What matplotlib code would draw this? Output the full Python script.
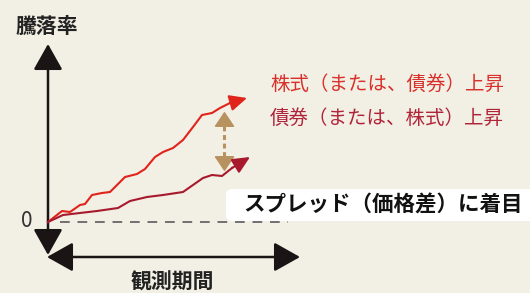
import numpy as np
import matplotlib.pyplot as plt
from matplotlib.patches import FancyBboxPatch
from matplotlib.path import Path

plt.rcParams['font.family'] = ['Noto Sans CJK JP', 'DejaVu Sans']

# observation period (t) and return (v) for each series
t_stock = [0, 7, 11, 16, 18.5, 22, 27, 31, 38.5, 44.5, 48.5, 53.5, 57.5, 62.5,
           67.5, 72.5, 77, 82, 86, 91, 99.5]
v_stock = [0, 5.5, 5, 8.5, 9, 13.5, 14.5, 15, 22.5, 24, 26.5, 32.5, 35, 37,
           41, 47.5, 53.5, 54.5, 57, 59.5, 62]
t_bond = [0, 7.5, 16, 24.5, 35, 41, 49.5, 57.5, 67.5, 72.5, 77.5, 82, 87, 92, 101]
v_bond = [0, 3.5, 4.5, 5.5, 7, 10.5, 12.5, 13.5, 15, 18.5, 22, 23.5, 23, 27, 32.5]

label_stock = '株式（または、債券）上昇'
label_bond = '債券（または、株式）上昇'
label_spread = 'スプレッド（価格差）に着目'
ylabel = '騰落率'
xlabel = '観測期間'

bg = '#f2efe4'
c_stock = '#e0231b'
c_bond = '#a8192e'
c_spread = '#b8925e'

fig = plt.figure(figsize=(5.3, 2.93), dpi=100, facecolor=bg)
ax = fig.add_axes([0, 0, 1, 1])
ax.set_facecolor(bg)
ax.set_xlim(-24, 241)
ax.set_ylim(-35.5, 111)
ax.axis('off')

# axes arrows
ax.annotate('', xy=(0, 89), xytext=(0, -16.5),
            arrowprops=dict(arrowstyle='<|-|>,head_length=0.8,head_width=0.45',
                            mutation_scale=20, color='#1a1414', lw=1.8,
                            shrinkA=0, shrinkB=0))
ax.annotate('', xy=(126, -17.5), xytext=(-0.5, -17.5),
            arrowprops=dict(arrowstyle='<|-|>,head_length=0.8,head_width=0.45',
                            mutation_scale=20, color='#1a1414', lw=1.8,
                            shrinkA=0, shrinkB=0))

# zero line
ax.plot([6, 120], [0, 0], color='#707070', lw=1.4, ls=(0, (5, 4)), zorder=1)

# series
for t, v, c in [(t_stock, v_stock, c_stock), (t_bond, v_bond, c_bond)]:
    ax.plot(t[:-1], v[:-1], color=c, lw=1.5, solid_joinstyle='round', zorder=3)
    ax.annotate('', xy=(t[-1], v[-1]), xytext=(t[-2], v[-2]),
                arrowprops=dict(arrowstyle='-|>,head_length=0.75,head_width=0.35',
                                mutation_scale=14, color=c, lw=1.5,
                                shrinkA=0, shrinkB=0), zorder=3)

# spread double arrow
tri_up = Path([(-1, -0.75), (1, -0.75), (0, 0.75), (-1, -0.75)])
tri_dn = Path([(-1, 0.75), (1, 0.75), (0, -0.75), (-1, 0.75)])
ax.plot([88, 88], [48, 33], color=c_spread, lw=2.2, ls=(0, (1.6, 1.2)), zorder=2)
ax.plot(88, 51.5, marker=tri_up, ms=13, color=c_spread, zorder=2)
ax.plot(88, 29.5, marker=tri_dn, ms=13, color=c_spread, zorder=2)

# labels
ax.text(111, 69, label_stock, color='#d8302a', fontsize=14, va='center', ha='left')
ax.text(111, 52, label_bond, color='#b0243a', fontsize=14, va='center', ha='left')

box = FancyBboxPatch((89, 0.5), 160, 16, boxstyle='round,pad=0,rounding_size=3',
                     fc='white', ec='none', zorder=4)
ax.add_patch(box)
ax.text(97.5, 8.5, label_spread, color='#111111', fontsize=15.5, fontweight='bold',
        va='center', ha='left', zorder=5)

ax.text(-10.5, 0.5, '0', color='#333333', fontsize=15, va='center', ha='center')
ax.text(-0.5, 98, ylabel, color='#222222', fontsize=15, fontweight='bold',
        va='center', ha='center')
ax.text(62, -30, xlabel, color='#222222', fontsize=15, fontweight='bold',
        va='center', ha='center')

fig.savefig('out.png', dpi=100, facecolor=bg)
